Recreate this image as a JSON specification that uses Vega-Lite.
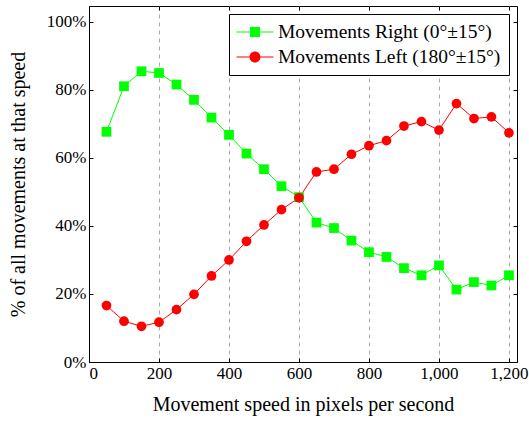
{
  "$schema": "https://vega.github.io/schema/vega-lite/v6.json",
  "width": 428,
  "height": 356,
  "autosize": "none",
  "padding": {"left": 89, "top": 6, "right": 12, "bottom": 59},
  "background": "white",
  "config": {
    "font": "Liberation Serif",
    "view": {"stroke": "black", "strokeWidth": 1},
    "axis": {"labelFont": "Liberation Serif", "titleFont": "Liberation Serif", "labelFontSize": 17, "titleFontSize": 20, "titleFontWeight": "normal", "labelColor": "black", "titleColor": "black", "domainColor": "black", "tickColor": "black"}
  },
  "data": {"values": [
    {"speed": 50, "pct": 67.7, "dir": "Movements Right (0°±15°)"},
    {"speed": 100, "pct": 81.1, "dir": "Movements Right (0°±15°)"},
    {"speed": 150, "pct": 85.5, "dir": "Movements Right (0°±15°)"},
    {"speed": 200, "pct": 85.0, "dir": "Movements Right (0°±15°)"},
    {"speed": 250, "pct": 81.6, "dir": "Movements Right (0°±15°)"},
    {"speed": 300, "pct": 77.1, "dir": "Movements Right (0°±15°)"},
    {"speed": 350, "pct": 71.9, "dir": "Movements Right (0°±15°)"},
    {"speed": 400, "pct": 66.8, "dir": "Movements Right (0°±15°)"},
    {"speed": 450, "pct": 61.3, "dir": "Movements Right (0°±15°)"},
    {"speed": 500, "pct": 56.7, "dir": "Movements Right (0°±15°)"},
    {"speed": 550, "pct": 51.7, "dir": "Movements Right (0°±15°)"},
    {"speed": 600, "pct": 48.5, "dir": "Movements Right (0°±15°)"},
    {"speed": 650, "pct": 41.0, "dir": "Movements Right (0°±15°)"},
    {"speed": 700, "pct": 39.4, "dir": "Movements Right (0°±15°)"},
    {"speed": 750, "pct": 35.7, "dir": "Movements Right (0°±15°)"},
    {"speed": 800, "pct": 32.3, "dir": "Movements Right (0°±15°)"},
    {"speed": 850, "pct": 30.9, "dir": "Movements Right (0°±15°)"},
    {"speed": 900, "pct": 27.6, "dir": "Movements Right (0°±15°)"},
    {"speed": 950, "pct": 25.5, "dir": "Movements Right (0°±15°)"},
    {"speed": 1000, "pct": 28.4, "dir": "Movements Right (0°±15°)"},
    {"speed": 1050, "pct": 21.3, "dir": "Movements Right (0°±15°)"},
    {"speed": 1100, "pct": 23.5, "dir": "Movements Right (0°±15°)"},
    {"speed": 1150, "pct": 22.5, "dir": "Movements Right (0°±15°)"},
    {"speed": 1200, "pct": 25.5, "dir": "Movements Right (0°±15°)"},
    {"speed": 50, "pct": 16.6, "dir": "Movements Left (180°±15°)"},
    {"speed": 100, "pct": 12.0, "dir": "Movements Left (180°±15°)"},
    {"speed": 150, "pct": 10.5, "dir": "Movements Left (180°±15°)"},
    {"speed": 200, "pct": 11.7, "dir": "Movements Left (180°±15°)"},
    {"speed": 250, "pct": 15.4, "dir": "Movements Left (180°±15°)"},
    {"speed": 300, "pct": 19.9, "dir": "Movements Left (180°±15°)"},
    {"speed": 350, "pct": 25.3, "dir": "Movements Left (180°±15°)"},
    {"speed": 400, "pct": 30.0, "dir": "Movements Left (180°±15°)"},
    {"speed": 450, "pct": 35.5, "dir": "Movements Left (180°±15°)"},
    {"speed": 500, "pct": 40.3, "dir": "Movements Left (180°±15°)"},
    {"speed": 550, "pct": 44.8, "dir": "Movements Left (180°±15°)"},
    {"speed": 600, "pct": 48.3, "dir": "Movements Left (180°±15°)"},
    {"speed": 650, "pct": 55.9, "dir": "Movements Left (180°±15°)"},
    {"speed": 700, "pct": 56.7, "dir": "Movements Left (180°±15°)"},
    {"speed": 750, "pct": 61.1, "dir": "Movements Left (180°±15°)"},
    {"speed": 800, "pct": 63.6, "dir": "Movements Left (180°±15°)"},
    {"speed": 850, "pct": 65.1, "dir": "Movements Left (180°±15°)"},
    {"speed": 900, "pct": 69.4, "dir": "Movements Left (180°±15°)"},
    {"speed": 950, "pct": 70.7, "dir": "Movements Left (180°±15°)"},
    {"speed": 1000, "pct": 68.2, "dir": "Movements Left (180°±15°)"},
    {"speed": 1050, "pct": 76.0, "dir": "Movements Left (180°±15°)"},
    {"speed": 1100, "pct": 71.6, "dir": "Movements Left (180°±15°)"},
    {"speed": 1150, "pct": 72.1, "dir": "Movements Left (180°±15°)"},
    {"speed": 1200, "pct": 67.4, "dir": "Movements Left (180°±15°)"}
  ]},
  "resolve": {"axis": {"x": "independent", "y": "independent"}},
  "layer": [
    {
      "mark": {"type": "line", "strokeWidth": 1},
      "encoding": {
        "x": {"field": "speed", "type": "quantitative", "scale": {"domain": [0, 1223], "nice": false, "zero": false},
          "axis": {"orient": "bottom", "title": "Movement speed in pixels per second", "values": [0, 200, 400, 600, 800, 1000, 1200], "format": ",d", "tickSize": -4, "labelPadding": 7, "titlePadding": 13, "grid": true, "gridColor": "#a8a8a8", "gridDash": [4, 4], "gridWidth": 1}},
        "y": {"field": "pct", "type": "quantitative", "scale": {"domain": [0, 104.7], "nice": false, "zero": false},
          "axis": {"orient": "left", "title": "% of all movements at that speed", "values": [0, 20, 40, 60, 80, 100], "labelExpr": "datum.value + '%'", "tickSize": -4, "labelPadding": 7, "titlePadding": 18, "grid": false}},
        "color": {"field": "dir", "type": "nominal", "scale": {"domain": ["Movements Right (0°±15°)", "Movements Left (180°±15°)"], "range": ["#00ff00", "#ff0000"]},
          "legend": {"title": null, "orient": "top-right", "offset": 8, "symbolSize": 400, "symbolStrokeWidth": 0, "labelFontSize": 19.5, "labelFont": "Liberation Serif", "labelColor": "black", "labelOffset": 21, "labelLimit": 0, "rowPadding": 5, "padding": 8, "strokeColor": "black", "fillColor": "white", "cornerRadius": 0,
            "encode": {"symbols": {"update": {"shape": {"signal": "indexof(datum.value, 'Right') >= 0 ? 'M-1.05,-0.05H2.65V0.05H-1.05Z M0.3,-0.5H1.3V0.5H0.3Z' : 'M-1.05,-0.05H2.65V0.05H-1.05Z M0.25,0A0.55,0.55 0 1,1 1.35,0A0.55,0.55 0 1,1 0.25,0Z'"}, "fill": {"scale": "color", "field": "value"}, "strokeWidth": {"value": 0}, "opacity": {"value": 1}}}}}},
        "detail": {"field": "dir"}
      }
    },
    {
      "transform": [{"filter": "datum.dir == 'Movements Right (0°±15°)'"}],
      "mark": {"type": "point", "filled": true, "opacity": 1, "shape": "square", "size": 95},
      "encoding": {
        "x": {"field": "speed", "type": "quantitative", "axis": {"orient": "top", "title": null, "labels": false, "values": [0, 200, 400, 600, 800, 1000, 1200], "tickSize": -4, "grid": false, "domain": false}},
        "y": {"field": "pct", "type": "quantitative", "axis": {"orient": "right", "title": null, "labels": false, "values": [0, 20, 40, 60, 80, 100], "tickSize": -4, "grid": false, "domain": false}},
        "color": {"field": "dir", "type": "nominal"}
      }
    },
    {
      "transform": [{"filter": "datum.dir == 'Movements Left (180°±15°)'"}],
      "mark": {"type": "point", "filled": true, "opacity": 1, "shape": "circle", "size": 95},
      "encoding": {
        "x": {"field": "speed", "type": "quantitative", "axis": null},
        "y": {"field": "pct", "type": "quantitative", "axis": null},
        "color": {"field": "dir", "type": "nominal"}
      }
    }
  ]
}
